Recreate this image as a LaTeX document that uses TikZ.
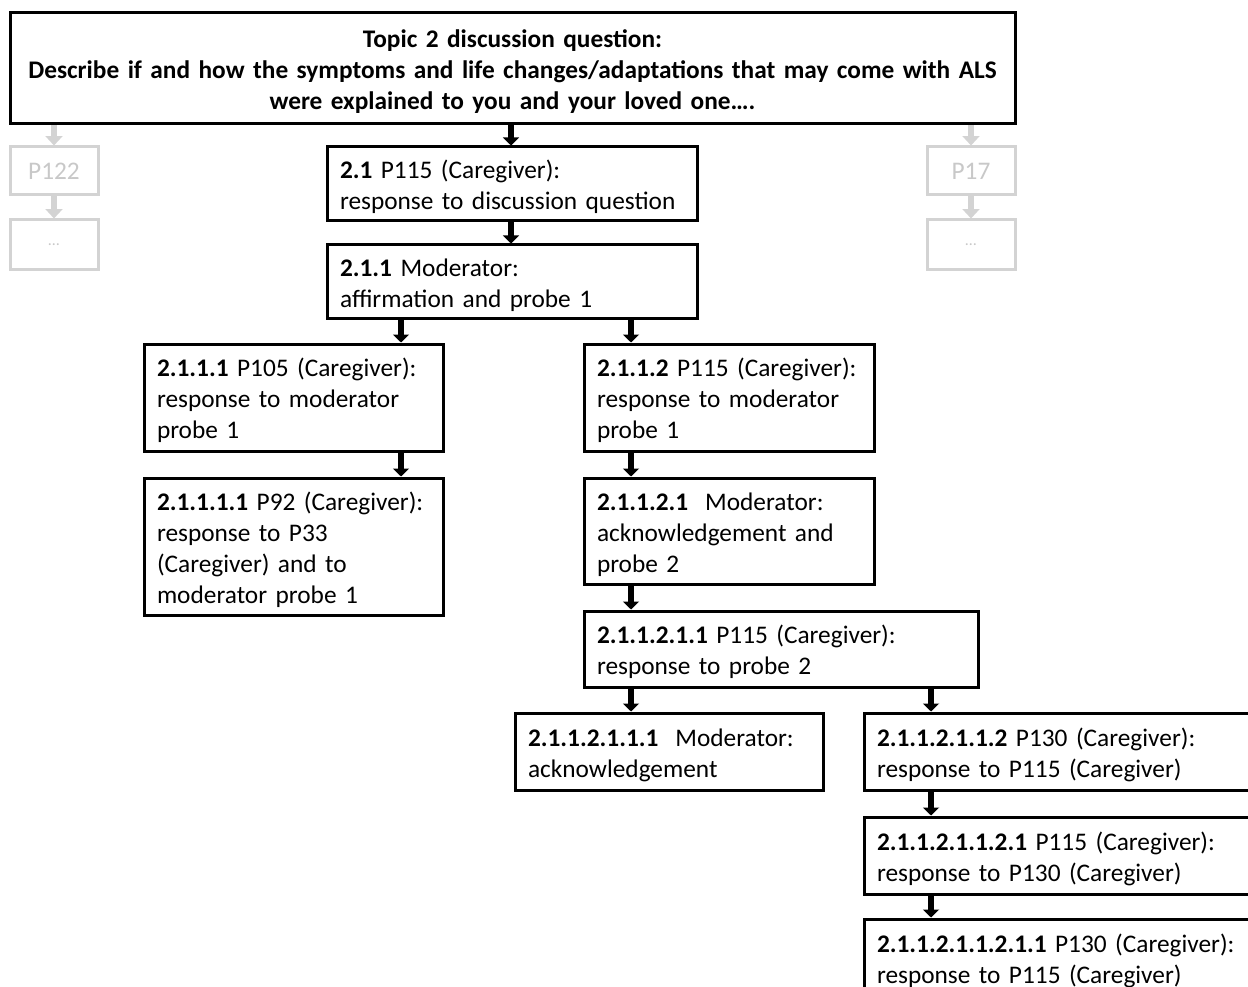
\documentclass[tikz,border=0pt]{standalone}
\usepackage{fontspec}
\setmainfont{Carlito}
\usetikzlibrary{arrows.meta}
\definecolor{lg}{HTML}{D3D3D3}
\definecolor{lgt}{HTML}{C8C8C8}
\tikzset{
  box/.style={draw=black, line width=2.25pt, inner xsep=9.75pt, inner ysep=0pt, align=left,
    font=\fontsize{19}{23.25}\selectfont, execute at begin node={\rule{0pt}{18.5pt}}},
  gbox/.style={draw=lg, line width=2.25pt, inner sep=0pt, align=center, text=lgt,
    font=\fontsize{19}{23.25}\selectfont},
  arr/.style={line width=4.2pt, -{Triangle[width=12pt,length=6pt]}},
  garr/.style={draw=lg, line width=5pt, -{Triangle[width=12.5pt,length=7pt,fill=lg]}},
}
\newcommand\bx[7][box]{%
  \pgfmathsetmacro\bw{(#5-#3)*0.75}%
  \pgfmathsetmacro\bh{(#6-#4)*0.75}%
  \pgfmathsetmacro\tw{(#5-#3-26)*0.75}%
  \node[#1, minimum width=\bw pt, minimum height=\bh pt, text width=\tw pt] (#2) at ({(#3+#5)/2},{(#4+#6)/2}) {#7};}
\begin{document}
\begin{tikzpicture}[x=0.75pt,y=-0.75pt]
\useasboundingbox (0,0) rectangle (1248,987);
\clip (0,0) rectangle (1248,987);
% top box
\bx[box,align=center,font=\fontsize{19}{23.25}\selectfont\bfseries]{top}{10}{13}{1015}{124}{Topic 2 discussion question:\\Describe if and how the symptoms and life changes/adaptations that may come with ALS\\were explained to you and your loved one\dots.}
% gray side boxes
\bx[gbox]{p122}{10}{147}{98}{195}{P122}
\bx[gbox]{g1}{10}{220}{98}{270}{\fontsize{12}{14}\selectfont\dots}
\bx[gbox]{p17}{927}{147}{1015}{195}{P17}
\bx[gbox]{g2}{927}{220}{1015}{270}{\fontsize{12}{14}\selectfont\dots}
% main boxes
\bx{b21}{327}{147}{697}{221}{\textbf{2.1} P115 (Caregiver):\\response to discussion question}
\bx{b211}{327}{245}{697}{319}{\textbf{2.1.1} Moderator:\\affirmation and probe 1}
\bx{b2111}{144}{344}{443}{451}{\textbf{2.1.1.1} P105 (Caregiver):\\response to moderator\\probe 1}
\bx{b2112}{584}{344}{874}{451}{\textbf{2.1.1.2} P115 (Caregiver):\\response to moderator\\probe 1}
\bx{b21111}{144}{478}{443}{615}{\textbf{2.1.1.1.1} P92 (Caregiver):\\response to P33\\(Caregiver) and to\\moderator probe 1}
\bx{b21121}{584}{478}{874}{584}{\textbf{2.1.1.2.1}\ \ Moderator:\\acknowledgement and\\probe 2}
\bx{b211211}{584}{611}{978}{687}{\textbf{2.1.1.2.1.1} P115 (Caregiver):\\response to probe 2}
\bx{b2112111}{515}{713}{823}{790}{\textbf{2.1.1.2.1.1.1}\ \ Moderator:\\acknowledgement}
\bx{b2112112}{864}{713}{1262}{790}{\textbf{2.1.1.2.1.1.2} P130 (Caregiver):\\response to P115 (Caregiver)}
\bx{b21121121}{864}{817}{1262}{894}{\textbf{2.1.1.2.1.1.2.1} P115 (Caregiver):\\response to P130 (Caregiver)}
\bx{b211211211}{864}{919}{1262}{997}{\textbf{2.1.1.2.1.1.2.1.1} P130 (Caregiver):\\response to P115 (Caregiver)}
% gray arrows
\draw[garr] (top.south -| p122.north) -- (p122.north);
\draw[garr] (p122) -- (g1);
\draw[garr] (top.south -| p17.north) -- (p17.north);
\draw[garr] (p17) -- (g2);
% black arrows
\draw[arr] (top.south -| 511,0) -- (b21.north -| 511,0);
\draw[arr] (b21.south -| 511,0) -- (b211.north -| 511,0);
\draw[arr] (b211.south -| 401,0) -- (b2111.north -| 401,0);
\draw[arr] (b211.south -| 631,0) -- (b2112.north -| 631,0);
\draw[arr] (b2111.south -| 401,0) -- (b21111.north -| 401,0);
\draw[arr] (b2112.south -| 631,0) -- (b21121.north -| 631,0);
\draw[arr] (b21121.south -| 631,0) -- (b211211.north -| 631,0);
\draw[arr] (b211211.south -| 631,0) -- (b2112111.north -| 631,0);
\draw[arr] (b211211.south -| 931,0) -- (b2112112.north -| 931,0);
\draw[arr] (b2112112.south -| 931,0) -- (b21121121.north -| 931,0);
\draw[arr] (b21121121.south -| 931,0) -- (b211211211.north -| 931,0);
\end{tikzpicture}
\end{document}
